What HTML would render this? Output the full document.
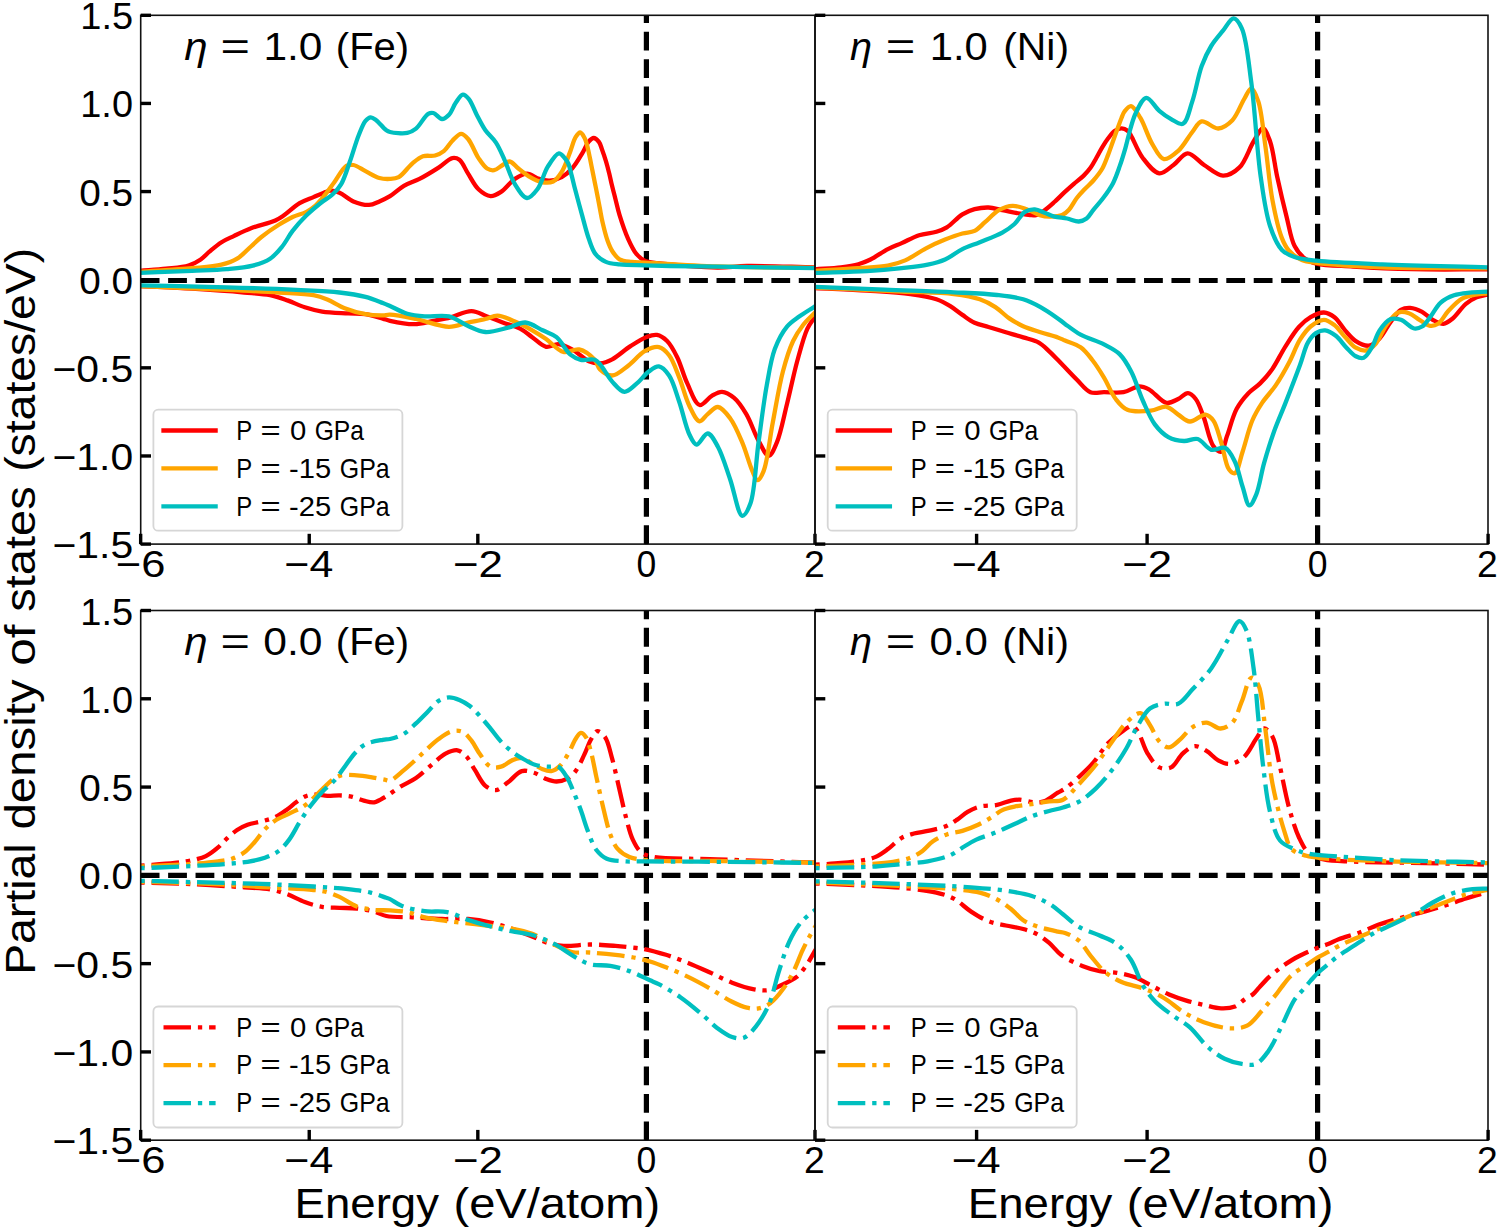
<!DOCTYPE html><html><head><meta charset="utf-8"><style>html,body{margin:0;padding:0;background:#fff;}svg{display:block;}text{font-family:"Liberation Sans",sans-serif;fill:#000;}</style></head><body>
<svg width="1499" height="1230" viewBox="0 0 1499 1230">
<rect width="1499" height="1230" fill="#fff"/>
<clipPath id="clipTL"><rect x="140.7" y="15.3" width="674.3" height="528.8000000000001"/></clipPath>
<line x1="140.7" y1="280.50" x2="815.0" y2="280.50" stroke="#000" stroke-width="5.2" stroke-dasharray="18.8 8.62"/>
<line x1="646.40" y1="544.1" x2="646.40" y2="15.3" stroke="#000" stroke-width="5.2" stroke-dasharray="18.8 8.62"/>
<g clip-path="url(#clipTL)" fill="none" stroke-width="4.3" stroke-linejoin="round">
<path d="M140.00,270.80 C148.67,270.10 157.65,269.61 166.00,268.70 C173.81,267.85 182.37,267.54 188.60,265.60 C193.40,264.11 197.14,261.93 200.70,259.50 C204.01,257.24 206.21,254.37 209.40,251.70 C213.06,248.63 217.32,244.85 221.50,242.20 C225.44,239.71 229.26,238.21 233.70,236.10 C238.94,233.61 244.67,230.73 251.00,228.30 C258.34,225.48 269.35,223.19 275.30,220.50 C279.05,218.80 280.76,217.52 284.00,215.30 C288.53,212.21 294.36,206.32 299.60,203.20 C304.20,200.46 309.20,198.95 313.50,197.10 C317.21,195.50 320.76,193.82 323.90,192.70 C326.41,191.81 328.36,190.77 330.80,190.70 C333.52,190.62 336.38,191.41 339.50,192.70 C343.73,194.45 348.45,199.36 353.40,201.40 C358.29,203.41 364.36,205.14 369.00,204.90 C372.85,204.70 375.96,202.81 379.40,201.40 C382.97,199.93 386.34,198.44 390.00,196.20 C394.44,193.48 398.96,188.69 403.90,185.80 C408.80,182.93 414.12,181.67 419.50,178.90 C425.63,175.74 432.81,171.30 438.60,167.60 C443.63,164.38 448.43,158.83 452.40,158.10 C455.00,157.62 457.23,158.24 459.40,159.80 C462.67,162.16 465.03,168.96 468.10,173.70 C471.38,178.77 474.38,185.46 478.50,189.30 C482.05,192.61 486.66,195.95 490.60,196.20 C494.14,196.42 497.49,194.16 501.00,191.90 C505.56,188.96 510.15,182.01 514.90,178.90 C518.85,176.32 522.96,173.71 527.00,173.70 C531.06,173.69 535.23,177.75 539.20,178.90 C542.74,179.93 546.03,180.81 549.60,180.60 C553.51,180.37 558.00,179.05 561.70,177.10 C565.53,175.08 568.87,172.08 572.10,168.50 C575.90,164.29 579.59,157.71 582.50,152.90 C584.88,148.97 586.26,144.48 588.50,141.90 C590.11,140.04 591.97,138.00 593.70,138.00 C595.43,138.00 597.54,140.14 598.90,141.90 C600.45,143.90 601.03,146.82 602.10,149.70 C603.39,153.19 604.81,157.42 606.00,161.40 C607.21,165.45 608.34,169.91 609.30,173.80 C610.14,177.22 610.64,179.92 611.50,183.50 C612.57,187.96 614.00,193.39 615.30,198.50 C616.66,203.85 617.68,208.97 619.50,214.90 C621.73,222.17 624.94,231.81 628.10,238.80 C630.73,244.61 633.32,250.33 636.60,254.20 C639.19,257.25 641.60,259.43 645.20,261.00 C649.71,262.96 654.89,262.78 662.20,263.60 C675.31,265.06 701.87,267.35 717.40,267.50 C728.73,267.61 734.96,266.18 746.80,266.00 C764.82,265.73 792.27,266.93 815.00,267.40" stroke="#ff0000" stroke-linecap="square"/>
<path d="M140.00,286.00 C157.33,286.90 174.66,287.62 192.00,288.70 C209.36,289.78 229.73,291.23 244.10,292.50 C254.27,293.40 262.38,293.65 270.10,295.20 C276.52,296.49 281.67,298.41 287.40,300.40 C293.24,302.43 298.94,305.42 304.80,307.30 C310.51,309.13 315.69,310.59 322.10,311.60 C329.86,312.82 340.39,312.95 348.20,313.40 C354.56,313.77 359.78,313.35 365.50,314.20 C371.31,315.06 378.29,317.34 382.80,318.60 C385.73,319.42 386.86,320.10 390.00,320.80 C395.68,322.06 406.70,324.34 414.30,324.20 C421.06,324.07 427.20,321.98 433.40,320.80 C439.32,319.68 444.70,318.78 450.70,317.30 C457.35,315.66 465.08,311.08 471.50,311.20 C477.09,311.30 481.92,314.53 487.10,316.40 C492.32,318.29 497.34,320.51 502.70,322.50 C508.32,324.58 514.99,325.95 520.10,328.60 C524.69,330.97 528.02,334.27 532.20,337.20 C536.66,340.33 541.41,345.86 546.10,346.80 C550.13,347.60 554.15,343.89 558.30,344.20 C562.81,344.54 567.39,346.92 572.10,349.40 C577.74,352.37 584.21,359.33 589.50,361.50 C593.25,363.04 596.40,363.56 600.00,363.30 C603.95,363.01 607.90,361.49 612.20,359.30 C617.90,356.40 624.48,349.96 630.50,346.10 C635.97,342.59 641.79,338.72 646.70,336.90 C650.37,335.54 653.61,334.33 656.90,334.90 C660.42,335.51 664.03,337.98 667.10,341.00 C670.99,344.82 674.09,350.97 677.20,357.20 C680.99,364.80 683.50,375.49 687.40,383.70 C691.03,391.34 694.92,404.03 699.60,405.00 C703.29,405.77 707.77,398.16 711.80,395.90 C715.23,393.98 718.49,391.65 722.00,391.80 C725.90,391.97 730.39,394.80 734.10,397.90 C738.64,401.70 742.54,407.81 746.30,414.10 C750.81,421.65 754.31,433.13 758.50,440.60 C761.82,446.52 765.54,455.86 768.70,455.80 C771.60,455.74 774.32,448.39 776.80,442.60 C780.78,433.31 783.68,417.21 787.00,404.00 C790.48,390.15 793.57,374.51 797.20,361.30 C800.39,349.67 803.58,336.85 807.30,328.80 C809.72,323.56 812.43,320.67 815.00,316.60" stroke="#ff0000" stroke-linecap="square"/>
<path d="M140.00,271.70 C157.33,270.53 177.12,269.58 192.00,268.20 C203.23,267.16 213.32,266.72 221.50,264.70 C227.63,263.18 232.29,261.61 237.10,258.70 C242.16,255.64 246.72,250.33 251.00,246.50 C254.74,243.16 257.37,240.23 261.40,237.00 C266.35,233.03 273.25,228.30 278.80,224.80 C283.59,221.78 287.90,219.19 292.60,217.00 C297.14,214.88 302.52,213.88 306.50,211.80 C309.86,210.05 312.43,208.22 315.20,205.80 C318.26,203.12 320.96,199.77 323.90,196.20 C327.31,192.07 330.71,187.13 334.30,182.30 C338.19,177.07 342.41,168.25 346.40,165.90 C348.75,164.52 350.82,164.56 353.40,165.00 C356.97,165.61 361.32,169.01 365.50,171.10 C369.97,173.34 374.97,176.76 379.40,178.00 C383.07,179.03 386.65,179.10 390.00,178.90 C393.06,178.72 395.72,178.71 398.70,177.10 C403.12,174.72 408.04,166.96 412.50,163.30 C416.09,160.36 419.19,157.59 423.00,156.30 C426.74,155.03 431.49,156.49 435.10,155.50 C438.34,154.61 441.11,153.25 443.80,151.10 C446.96,148.57 449.36,143.68 452.40,140.70 C455.16,138.00 458.34,133.84 461.10,133.80 C463.54,133.76 465.82,136.38 468.10,139.00 C471.70,143.14 474.94,152.83 478.50,158.10 C481.31,162.25 484.04,166.59 487.10,168.50 C489.33,169.90 491.72,170.57 494.10,170.20 C496.91,169.77 499.95,166.51 502.70,165.00 C505.13,163.66 507.32,161.24 509.70,161.50 C512.54,161.80 515.35,166.13 518.40,168.50 C521.69,171.06 524.94,174.06 528.80,176.30 C532.95,178.71 538.23,181.56 542.60,182.30 C546.26,182.92 550.03,183.01 553.10,181.50 C556.49,179.83 559.12,175.98 561.70,171.90 C565.11,166.50 567.92,157.36 570.40,151.10 C572.41,146.02 573.52,140.46 575.60,137.20 C576.98,135.03 578.72,132.43 580.20,132.50 C581.73,132.58 583.45,135.89 584.60,138.00 C585.84,140.28 586.40,142.91 587.20,145.80 C588.16,149.28 588.95,153.49 589.80,157.50 C590.69,161.71 591.53,166.17 592.40,170.50 C593.27,174.83 594.13,179.17 595.00,183.50 C595.87,187.83 596.78,192.30 597.60,196.50 C598.37,200.45 599.03,203.98 599.80,208.00 C600.65,212.44 601.35,217.03 602.50,222.00 C603.83,227.76 605.59,235.20 607.50,240.50 C609.01,244.71 610.40,248.29 612.50,251.50 C614.46,254.49 616.51,257.56 619.50,259.30 C622.73,261.18 627.34,261.35 631.50,261.90 C635.92,262.49 638.90,262.27 645.30,262.60 C659.93,263.36 691.54,265.52 717.40,266.40 C747.47,267.42 782.47,267.40 815.00,267.90" stroke="#ffa500" stroke-linecap="square"/>
<path d="M140.00,286.00 C163.13,287.03 186.27,288.02 209.40,289.10 C232.53,290.18 259.64,291.29 278.80,292.50 C292.36,293.36 304.63,293.49 313.50,295.20 C319.22,296.30 322.52,297.57 327.30,299.50 C332.85,301.74 338.52,305.79 344.70,308.20 C351.21,310.74 358.83,313.02 365.50,314.20 C371.47,315.26 378.28,315.46 382.80,315.40 C385.72,315.36 386.86,314.59 390.00,314.70 C395.99,314.90 406.85,317.16 416.00,319.00 C426.38,321.08 439.49,326.75 449.00,326.80 C456.23,326.84 461.88,323.83 468.10,322.50 C474.00,321.24 480.17,320.26 485.40,319.00 C489.81,317.93 493.12,315.47 497.50,315.60 C502.80,315.75 509.19,319.19 514.90,321.60 C520.76,324.07 526.81,327.27 532.20,330.30 C537.16,333.09 541.28,335.70 546.10,339.00 C551.65,342.80 557.54,350.55 563.50,352.00 C568.58,353.23 574.10,348.33 579.10,349.40 C584.54,350.57 591.14,355.93 594.70,359.80 C597.42,362.76 597.34,366.85 600.00,369.40 C602.96,372.24 607.90,375.70 612.20,375.50 C617.30,375.27 623.23,369.31 628.50,365.40 C634.09,361.25 639.12,354.14 644.70,351.10 C649.31,348.59 654.74,346.26 658.90,347.10 C662.81,347.89 666.09,351.35 669.10,355.20 C673.24,360.49 676.07,369.62 679.30,377.60 C682.87,386.43 685.48,398.18 689.40,406.00 C692.46,412.11 696.13,420.85 699.60,421.30 C702.26,421.64 704.77,416.41 707.70,414.10 C710.84,411.63 714.44,406.77 717.90,407.00 C721.89,407.27 726.43,413.33 730.10,418.20 C734.81,424.46 738.66,434.03 742.30,442.60 C746.14,451.62 749.33,464.33 752.40,471.10 C754.20,475.08 755.66,480.13 757.50,480.20 C759.39,480.28 761.76,475.61 763.60,471.10 C767.53,461.51 769.62,438.72 772.80,422.30 C776.05,405.53 779.00,386.18 782.90,371.50 C785.97,359.93 789.14,349.40 793.10,341.00 C796.16,334.51 799.51,329.57 803.30,324.70 C806.86,320.14 811.10,316.57 815.00,312.50" stroke="#ffa500" stroke-linecap="square"/>
<path d="M140.00,272.90 C157.33,272.20 176.41,271.50 192.00,270.80 C204.73,270.23 215.99,270.08 226.70,269.10 C236.01,268.25 245.01,267.61 252.70,265.60 C259.20,263.90 265.11,261.99 270.10,258.70 C274.88,255.54 278.52,251.01 282.20,246.50 C286.05,241.79 288.68,235.97 292.60,230.90 C296.73,225.55 301.71,220.03 306.50,215.30 C311.00,210.85 315.84,206.81 320.40,203.20 C324.50,199.96 328.97,197.78 332.50,194.50 C335.86,191.38 338.61,188.50 341.20,184.10 C344.66,178.23 347.08,169.33 349.90,161.50 C352.90,153.17 355.65,142.87 358.60,135.50 C360.87,129.83 362.90,123.84 365.50,120.80 C367.12,118.91 368.93,117.41 370.70,117.30 C372.40,117.19 373.99,118.53 375.90,119.90 C378.93,122.08 383.57,128.40 386.30,130.30 C387.74,131.30 388.26,131.57 390.00,132.00 C393.60,132.89 402.62,133.87 407.30,132.90 C410.81,132.18 413.10,130.90 416.00,128.60 C420.07,125.37 424.63,115.83 428.20,113.80 C430.07,112.74 431.54,112.57 433.40,113.00 C436.02,113.61 439.26,118.92 442.00,119.00 C444.43,119.07 446.91,116.86 449.00,114.70 C451.72,111.88 453.39,106.00 455.90,102.50 C458.07,99.47 460.54,94.94 462.90,94.70 C464.88,94.49 467.02,96.87 468.90,99.10 C471.78,102.51 473.97,109.53 476.70,114.70 C479.46,119.93 482.11,125.58 485.40,130.30 C488.51,134.76 492.73,137.79 495.80,142.40 C499.19,147.49 501.57,153.47 504.50,159.80 C507.92,167.18 510.69,177.39 514.90,184.10 C518.42,189.70 522.96,197.68 527.00,198.00 C530.46,198.27 534.32,193.33 537.40,189.30 C541.57,183.84 543.81,173.02 547.80,166.70 C551.13,161.42 555.76,153.77 558.90,153.40 C560.80,153.18 562.49,155.62 564.00,157.20 C565.66,158.93 567.11,160.94 568.30,163.50 C569.83,166.78 570.60,171.43 571.70,175.60 C572.87,180.02 573.74,184.03 575.10,189.30 C576.97,196.52 579.68,206.52 582.00,214.90 C584.25,223.01 586.27,231.78 588.80,238.80 C590.89,244.58 592.45,250.24 595.60,254.20 C598.36,257.66 602.01,260.20 605.90,261.90 C609.94,263.66 614.22,263.83 619.50,264.40 C626.71,265.18 636.79,265.03 645.30,265.30 C653.62,265.56 660.44,265.79 670.00,266.00 C683.25,266.29 698.78,266.42 717.40,266.70 C744.12,267.10 782.47,267.70 815.00,268.20" stroke="#00bfbf" stroke-linecap="square"/>
<path d="M140.00,285.30 C168.90,285.97 199.41,286.47 226.70,287.30 C251.12,288.04 275.67,288.91 296.10,289.90 C312.26,290.69 326.91,291.06 339.50,292.50 C349.30,293.62 357.79,294.90 365.50,296.90 C371.93,298.56 378.30,301.27 382.80,303.00 C385.74,304.13 387.09,304.74 390.00,306.00 C394.53,307.97 401.40,312.07 407.30,313.80 C412.98,315.47 418.40,315.93 424.70,316.40 C432.11,316.95 441.58,314.64 449.00,316.40 C455.96,318.05 461.80,323.34 468.10,326.00 C473.93,328.46 479.18,331.55 485.40,332.00 C492.37,332.51 501.01,329.41 508.00,327.70 C514.19,326.18 519.60,322.12 525.30,322.50 C531.14,322.88 537.17,327.73 542.60,330.30 C547.51,332.62 552.22,333.74 556.50,337.20 C561.63,341.34 565.67,350.77 570.40,354.60 C573.82,357.36 576.97,358.89 580.80,359.80 C584.99,360.79 591.32,358.56 594.70,359.80 C597.09,360.68 598.03,362.14 600.00,364.30 C603.44,368.06 607.80,376.82 612.20,381.60 C616.02,385.74 620.25,391.57 624.40,391.80 C628.39,392.02 632.69,386.90 636.60,383.70 C640.85,380.22 644.68,374.48 648.80,371.50 C652.13,369.09 655.66,365.98 658.90,366.40 C662.46,366.87 666.13,371.20 669.10,375.50 C673.39,381.70 676.06,392.66 679.30,402.00 C682.85,412.23 685.68,426.94 689.40,434.50 C691.64,439.05 693.69,444.35 696.50,444.60 C699.67,444.88 704.18,433.27 707.70,433.50 C711.32,433.74 714.74,441.03 717.90,446.70 C722.46,454.88 726.14,468.01 730.10,479.20 C734.28,491.00 738.04,515.23 742.30,515.80 C744.93,516.15 748.15,509.59 750.40,503.60 C755.01,491.33 755.73,462.57 758.50,442.60 C761.17,423.30 763.63,402.53 766.70,385.70 C769.18,372.11 770.88,359.57 774.80,349.10 C778.04,340.46 782.32,332.38 787.00,326.70 C790.69,322.22 794.77,319.85 799.20,316.60 C804.03,313.06 809.73,309.80 815.00,306.40" stroke="#00bfbf" stroke-linecap="square"/>
</g>
<rect x="140.7" y="15.3" width="674.3" height="528.8000000000001" fill="none" stroke="#111" stroke-width="1.6"/>
<line x1="140.7" y1="544.10" x2="151.0" y2="544.10" stroke="#000" stroke-width="3.4"/>
<line x1="140.7" y1="455.97" x2="151.0" y2="455.97" stroke="#000" stroke-width="3.4"/>
<line x1="140.7" y1="367.83" x2="151.0" y2="367.83" stroke="#000" stroke-width="3.4"/>
<line x1="140.7" y1="279.70" x2="151.0" y2="279.70" stroke="#000" stroke-width="3.4"/>
<line x1="140.7" y1="191.57" x2="151.0" y2="191.57" stroke="#000" stroke-width="3.4"/>
<line x1="140.7" y1="103.43" x2="151.0" y2="103.43" stroke="#000" stroke-width="3.4"/>
<line x1="140.7" y1="15.30" x2="151.0" y2="15.30" stroke="#000" stroke-width="3.4"/>
<line x1="140.66" y1="544.1" x2="140.66" y2="533.8000000000001" stroke="#000" stroke-width="3.4"/>
<line x1="309.24" y1="544.1" x2="309.24" y2="533.8000000000001" stroke="#000" stroke-width="3.4"/>
<line x1="477.82" y1="544.1" x2="477.82" y2="533.8000000000001" stroke="#000" stroke-width="3.4"/>
<line x1="646.40" y1="544.1" x2="646.40" y2="533.8000000000001" stroke="#000" stroke-width="3.4"/>
<line x1="814.98" y1="544.1" x2="814.98" y2="533.8000000000001" stroke="#000" stroke-width="3.4"/>
<clipPath id="clipTR"><rect x="815.0" y="15.3" width="673.0" height="528.8000000000001"/></clipPath>
<line x1="815.0" y1="280.50" x2="1488.0" y2="280.50" stroke="#000" stroke-width="5.2" stroke-dasharray="18.8 8.62"/>
<line x1="1317.60" y1="544.1" x2="1317.60" y2="15.3" stroke="#000" stroke-width="5.2" stroke-dasharray="18.8 8.62"/>
<g clip-path="url(#clipTR)" fill="none" stroke-width="4.3" stroke-linejoin="round">
<path d="M815.00,269.40 C823.67,268.70 833.22,268.30 841.00,267.30 C847.40,266.47 853.19,265.66 858.40,264.20 C862.87,262.95 866.20,261.60 870.50,259.50 C875.88,256.87 882.35,251.95 887.90,249.10 C892.68,246.64 896.84,245.26 901.70,243.10 C907.17,240.67 913.20,237.09 919.10,235.20 C924.77,233.38 931.43,233.32 936.40,231.80 C940.38,230.58 943.16,229.62 946.80,227.40 C951.68,224.42 957.29,217.52 962.40,214.40 C966.53,211.88 970.32,210.35 974.60,209.20 C979.00,208.02 983.89,207.35 988.50,207.50 C993.12,207.65 997.44,209.15 1002.30,210.10 C1007.77,211.16 1014.65,212.72 1019.70,213.60 C1023.57,214.27 1027.04,214.89 1030.00,215.10 C1032.23,215.26 1033.82,215.65 1035.90,215.10 C1038.61,214.39 1041.71,212.20 1044.60,210.20 C1047.87,207.94 1051.19,204.88 1054.40,202.00 C1057.69,199.05 1060.83,195.73 1064.10,192.70 C1067.33,189.70 1070.61,186.77 1073.90,183.90 C1077.15,181.07 1080.82,178.44 1083.70,175.60 C1086.28,173.06 1088.44,170.65 1090.50,167.80 C1092.66,164.81 1094.38,161.35 1096.30,158.00 C1098.28,154.53 1100.17,150.65 1102.20,147.30 C1104.08,144.18 1105.88,141.27 1108.00,138.50 C1110.11,135.74 1112.37,132.41 1114.90,130.70 C1117.01,129.28 1119.53,128.23 1121.70,128.30 C1123.75,128.36 1126.03,129.54 1127.60,130.80 C1129.10,132.01 1129.62,133.35 1131.00,135.60 C1133.87,140.27 1137.89,151.59 1142.80,158.00 C1147.43,164.04 1153.78,172.69 1159.30,173.30 C1164.02,173.82 1168.90,168.22 1173.50,165.00 C1178.35,161.60 1182.64,153.49 1187.60,153.30 C1192.81,153.10 1198.31,161.34 1204.10,165.00 C1210.09,168.79 1216.87,175.45 1223.00,175.60 C1228.65,175.74 1234.79,171.94 1239.50,167.40 C1245.46,161.66 1249.16,148.55 1253.60,141.50 C1256.87,136.30 1260.21,128.32 1263.00,128.50 C1265.68,128.67 1268.06,135.91 1270.10,141.50 C1273.27,150.21 1274.56,164.68 1277.20,176.80 C1280.02,189.76 1283.48,204.62 1286.60,216.90 C1289.28,227.43 1290.77,238.71 1294.60,246.10 C1297.39,251.48 1300.88,255.54 1304.80,258.50 C1308.29,261.14 1311.38,262.32 1316.50,263.60 C1325.17,265.77 1339.40,265.65 1353.00,266.50 C1370.20,267.58 1390.69,268.69 1411.50,269.20 C1435.29,269.78 1462.50,269.33 1488.00,269.40" stroke="#ff0000" stroke-linecap="square"/>
<path d="M815.00,288.00 C832.33,288.87 850.46,289.52 867.00,290.60 C882.13,291.59 897.82,292.34 910.40,294.10 C920.22,295.47 929.21,296.85 936.40,299.30 C941.90,301.18 945.93,303.57 950.30,306.20 C954.58,308.78 958.32,312.13 962.40,314.90 C966.42,317.63 970.26,320.68 974.60,322.70 C978.95,324.72 983.61,325.51 988.50,327.00 C993.95,328.66 1000.02,330.47 1005.80,332.20 C1011.59,333.94 1017.57,335.62 1023.20,337.40 C1028.56,339.09 1034.32,340.10 1038.80,342.60 C1042.86,344.87 1045.68,348.06 1049.20,351.30 C1053.16,354.94 1057.04,359.14 1061.30,363.50 C1066.14,368.46 1071.65,374.54 1076.70,379.50 C1081.33,384.05 1085.43,390.25 1090.40,392.20 C1094.64,393.86 1099.06,392.20 1104.00,392.20 C1109.92,392.20 1117.46,393.30 1123.50,392.20 C1129.09,391.18 1134.48,386.45 1139.10,386.30 C1142.72,386.18 1145.34,387.46 1148.90,389.30 C1154.14,392.01 1160.99,401.97 1166.50,402.90 C1170.60,403.60 1174.57,400.67 1178.20,399.00 C1181.68,397.40 1184.89,393.05 1187.90,393.20 C1190.69,393.34 1193.41,396.14 1195.70,399.00 C1198.92,403.03 1200.91,409.92 1203.50,416.60 C1206.78,425.06 1209.16,440.18 1213.30,445.90 C1215.62,449.11 1218.98,452.32 1221.10,451.70 C1223.88,450.88 1224.82,442.04 1227.00,436.10 C1229.87,428.28 1232.63,416.38 1236.70,408.80 C1240.04,402.58 1244.23,397.60 1248.40,393.20 C1252.09,389.31 1256.35,387.11 1260.10,383.40 C1264.17,379.38 1267.99,375.15 1271.80,369.80 C1276.50,363.21 1280.79,353.68 1285.50,346.30 C1289.91,339.40 1294.40,331.92 1299.10,326.80 C1302.83,322.73 1306.39,319.60 1310.60,317.20 C1314.68,314.88 1319.75,312.34 1323.90,312.50 C1327.66,312.65 1331.24,314.69 1334.50,317.20 C1338.44,320.23 1341.44,326.32 1345.10,330.40 C1348.56,334.25 1351.72,338.54 1355.80,341.10 C1359.72,343.56 1364.97,346.24 1369.00,345.70 C1372.87,345.18 1376.34,341.69 1379.60,338.40 C1383.58,334.38 1386.61,327.40 1390.30,322.50 C1393.72,317.96 1397.06,312.21 1400.90,309.90 C1403.82,308.14 1406.94,307.72 1410.20,307.90 C1413.95,308.11 1418.39,309.96 1422.10,311.90 C1425.91,313.89 1429.01,317.79 1432.70,319.80 C1436.13,321.67 1440.02,324.07 1443.40,323.80 C1446.67,323.54 1449.54,321.04 1452.70,318.50 C1456.99,315.06 1461.47,307.59 1465.90,303.90 C1469.44,300.95 1472.85,298.85 1476.60,297.30 C1480.22,295.80 1484.20,295.50 1488.00,294.60" stroke="#ff0000" stroke-linecap="square"/>
<path d="M815.00,270.80 C829.47,269.93 845.33,269.17 858.40,268.20 C869.19,267.40 879.44,267.23 887.90,265.60 C894.51,264.33 899.32,262.95 905.20,260.40 C911.98,257.46 919.13,251.85 926.00,248.30 C932.42,244.98 938.84,242.13 945.10,239.60 C950.96,237.24 957.09,234.99 962.40,233.50 C966.78,232.27 970.90,232.70 974.60,230.90 C978.46,229.02 981.30,225.36 985.00,222.20 C989.31,218.52 993.97,212.85 998.90,210.10 C1003.27,207.66 1008.07,205.94 1012.70,205.80 C1017.31,205.66 1022.09,207.66 1026.60,209.20 C1031.13,210.75 1035.66,213.88 1039.80,215.10 C1043.21,216.11 1046.04,216.54 1049.50,216.60 C1053.44,216.67 1058.78,216.51 1062.20,215.10 C1065.01,213.94 1066.84,212.14 1069.00,209.80 C1071.77,206.80 1074.06,201.54 1076.80,198.00 C1079.29,194.78 1081.88,192.17 1084.60,189.30 C1087.41,186.34 1090.58,183.75 1093.40,180.50 C1096.46,176.97 1099.77,173.01 1102.20,168.80 C1104.65,164.55 1106.21,159.68 1108.00,155.10 C1109.77,150.58 1111.27,146.04 1112.90,141.50 C1114.54,136.94 1116.26,131.98 1117.80,127.80 C1119.10,124.25 1120.28,120.91 1121.50,118.00 C1122.51,115.59 1123.02,113.42 1124.50,111.50 C1126.10,109.41 1128.76,105.87 1131.00,106.10 C1134.00,106.41 1137.38,112.98 1140.40,117.90 C1144.55,124.66 1147.81,136.51 1152.20,143.80 C1155.82,149.81 1159.44,158.20 1164.00,159.10 C1168.20,159.93 1173.84,154.78 1178.20,150.90 C1183.43,146.25 1187.97,137.32 1192.30,132.00 C1195.66,127.88 1197.74,122.28 1201.70,121.40 C1206.16,120.41 1212.98,128.82 1218.20,128.50 C1223.19,128.19 1228.34,124.34 1232.40,120.20 C1237.33,115.17 1240.65,104.79 1244.20,99.00 C1246.77,94.80 1249.03,88.29 1251.30,88.40 C1253.74,88.52 1256.32,95.55 1258.30,101.40 C1261.76,111.66 1263.13,130.54 1265.40,146.20 C1267.89,163.39 1269.40,184.05 1272.50,200.40 C1275.11,214.19 1278.35,229.10 1281.90,238.10 C1284.05,243.54 1285.63,246.93 1288.80,250.50 C1292.18,254.31 1297.17,257.94 1301.90,260.00 C1306.43,261.98 1309.84,262.02 1316.50,262.90 C1330.51,264.75 1357.76,266.36 1382.30,267.30 C1413.36,268.48 1452.77,267.97 1488.00,268.30" stroke="#ffa500" stroke-linecap="square"/>
<path d="M815.00,287.50 C843.90,288.83 876.46,290.29 901.70,291.50 C921.27,292.44 939.48,292.32 953.80,294.10 C964.01,295.37 972.38,296.75 979.80,299.30 C985.82,301.37 990.51,303.95 995.40,307.10 C1000.35,310.30 1004.52,315.15 1009.30,318.40 C1013.81,321.46 1018.21,323.95 1023.20,326.20 C1028.55,328.61 1034.71,330.33 1040.50,332.20 C1046.25,334.06 1053.31,335.77 1057.80,337.40 C1060.76,338.48 1062.14,339.26 1065.00,340.50 C1069.21,342.32 1076.06,344.07 1080.60,347.30 C1085.17,350.55 1088.58,355.26 1092.30,360.00 C1096.42,365.25 1100.23,371.36 1104.00,377.60 C1108.05,384.30 1111.29,393.35 1115.70,399.00 C1119.27,403.57 1122.35,407.71 1127.40,409.80 C1133.54,412.34 1143.91,411.42 1150.90,410.70 C1156.68,410.10 1161.83,405.99 1166.50,406.80 C1170.87,407.56 1174.27,412.13 1178.20,414.60 C1182.07,417.03 1185.65,421.25 1189.90,421.50 C1194.66,421.78 1201.31,414.11 1205.50,414.60 C1208.68,414.97 1211.06,417.46 1213.30,420.50 C1216.73,425.15 1218.63,434.36 1221.10,442.00 C1223.86,450.51 1225.41,464.53 1228.90,469.30 C1230.64,471.68 1233.02,473.79 1234.80,473.20 C1238.00,472.14 1239.95,459.57 1242.60,451.70 C1245.76,442.30 1248.55,429.26 1252.30,420.50 C1255.25,413.62 1258.32,408.62 1262.10,402.90 C1266.07,396.90 1271.36,391.81 1275.70,385.40 C1280.50,378.31 1285.28,369.79 1289.40,362.00 C1293.34,354.56 1296.07,345.97 1300.00,339.70 C1303.26,334.51 1306.45,329.86 1310.60,326.50 C1314.49,323.35 1319.72,319.81 1323.90,319.80 C1327.63,319.79 1331.19,322.56 1334.50,325.10 C1338.34,328.05 1341.49,333.28 1345.10,337.10 C1348.60,340.80 1351.92,345.50 1355.80,347.70 C1359.11,349.57 1363.12,351.02 1366.40,350.40 C1369.76,349.76 1372.82,346.91 1375.70,343.70 C1379.64,339.32 1382.31,330.49 1386.30,325.10 C1389.89,320.25 1393.92,314.18 1398.20,312.50 C1401.57,311.18 1405.47,312.10 1408.90,313.20 C1412.60,314.39 1415.94,317.69 1419.50,319.80 C1423.01,321.89 1426.73,325.34 1430.10,325.80 C1432.88,326.18 1435.52,325.46 1438.10,323.80 C1441.81,321.42 1444.77,314.66 1448.70,310.50 C1452.72,306.24 1457.26,301.26 1462.00,298.60 C1466.16,296.26 1470.79,295.48 1475.20,294.60 C1479.46,293.75 1483.73,293.73 1488.00,293.30" stroke="#ffa500" stroke-linecap="square"/>
<path d="M815.00,272.90 C832.33,272.33 851.42,272.13 867.00,271.20 C879.74,270.44 890.98,269.38 901.70,268.20 C911.00,267.17 919.96,266.37 927.70,264.70 C934.14,263.31 939.46,261.99 945.10,259.50 C951.05,256.87 956.50,252.02 962.40,249.10 C968.08,246.29 973.65,244.73 979.80,242.20 C986.84,239.30 996.09,236.06 1002.30,232.60 C1007.15,229.89 1010.79,227.39 1014.50,224.00 C1018.35,220.49 1021.05,214.19 1024.90,211.80 C1027.99,209.89 1031.61,209.15 1034.90,209.30 C1038.18,209.45 1041.37,211.49 1044.60,212.70 C1047.87,213.92 1050.86,215.65 1054.40,216.60 C1058.30,217.65 1062.97,217.66 1067.10,218.50 C1071.10,219.31 1075.32,221.70 1078.80,221.50 C1081.69,221.33 1084.29,220.21 1086.60,218.50 C1089.25,216.54 1090.90,212.90 1093.40,209.80 C1096.34,206.15 1100.05,202.23 1103.20,198.00 C1106.57,193.48 1110.16,188.64 1112.90,183.40 C1115.73,177.97 1117.70,171.86 1119.80,165.90 C1121.94,159.83 1123.82,153.54 1125.60,147.30 C1127.38,141.07 1128.73,134.41 1130.50,128.50 C1132.12,123.11 1133.22,118.14 1135.70,113.20 C1138.37,107.88 1142.35,98.16 1146.30,97.80 C1150.22,97.44 1154.91,107.11 1159.30,110.80 C1163.19,114.07 1167.03,116.90 1171.10,119.10 C1174.92,121.16 1179.67,125.16 1182.90,123.80 C1187.37,121.92 1189.43,109.83 1192.30,101.40 C1195.83,91.05 1198.04,75.99 1201.70,66.00 C1204.55,58.24 1207.49,52.04 1211.20,46.00 C1214.66,40.36 1219.11,35.47 1223.00,30.70 C1226.57,26.32 1230.31,18.37 1233.60,18.40 C1236.53,18.43 1239.46,23.23 1241.80,28.30 C1246.64,38.79 1248.47,61.89 1251.30,82.50 C1255.01,109.55 1256.89,150.46 1260.70,176.80 C1263.48,196.01 1265.63,213.07 1270.10,226.30 C1273.33,235.88 1276.95,244.72 1281.90,249.90 C1285.57,253.75 1289.62,255.25 1294.60,257.00 C1300.76,259.17 1307.20,259.66 1316.50,260.70 C1332.51,262.48 1357.77,263.28 1382.30,264.30 C1413.37,265.59 1452.77,266.30 1488.00,267.30" stroke="#00bfbf" stroke-linecap="square"/>
<path d="M815.00,286.80 C838.13,287.77 861.27,288.78 884.40,289.70 C907.53,290.62 933.39,291.28 953.80,292.30 C969.93,293.11 984.51,293.57 997.10,295.00 C1006.93,296.11 1015.52,296.98 1023.20,299.30 C1029.70,301.26 1034.85,304.01 1040.50,307.10 C1046.39,310.33 1053.32,315.23 1057.80,318.40 C1060.77,320.50 1062.11,321.81 1065.00,323.90 C1069.18,326.92 1074.69,331.38 1080.60,334.60 C1087.45,338.33 1097.11,340.85 1104.00,344.40 C1109.86,347.42 1115.15,349.79 1119.60,354.10 C1124.37,358.73 1127.72,364.88 1131.30,371.70 C1135.68,380.04 1138.88,391.87 1143.00,401.00 C1146.75,409.33 1150.08,418.11 1154.80,424.40 C1158.78,429.70 1163.32,434.34 1168.40,437.10 C1173.13,439.67 1178.94,440.75 1184.00,441.00 C1188.69,441.23 1193.38,437.84 1197.70,439.00 C1202.54,440.30 1206.46,448.50 1211.30,449.80 C1215.62,450.96 1221.20,446.18 1225.00,447.80 C1229.20,449.59 1232.06,455.97 1234.80,461.50 C1238.23,468.43 1239.99,479.04 1242.60,486.80 C1244.86,493.51 1246.82,505.13 1249.40,505.40 C1251.47,505.62 1254.18,499.34 1256.20,494.60 C1259.41,487.07 1261.08,473.76 1264.00,463.40 C1266.94,452.96 1270.18,442.37 1273.80,432.20 C1277.36,422.21 1281.43,413.31 1285.50,402.90 C1290.12,391.09 1295.94,376.03 1300.00,365.00 C1303.12,356.52 1304.74,348.07 1308.00,342.40 C1310.33,338.35 1312.82,335.09 1315.90,333.10 C1318.64,331.32 1322.06,330.10 1325.20,330.40 C1328.68,330.73 1332.48,333.25 1335.80,335.80 C1339.65,338.76 1342.98,344.13 1346.50,347.70 C1349.63,350.88 1352.58,354.70 1355.80,356.30 C1358.36,357.57 1361.30,358.61 1363.70,357.70 C1366.74,356.56 1369.26,351.66 1371.70,347.70 C1374.67,342.87 1376.27,335.31 1379.60,330.40 C1382.60,325.97 1386.35,320.76 1390.30,319.20 C1393.57,317.91 1397.33,318.62 1400.90,319.80 C1405.27,321.24 1410.21,327.83 1414.20,328.50 C1417.06,328.98 1419.67,328.00 1422.10,326.50 C1425.08,324.66 1427.32,320.71 1430.10,317.20 C1433.47,312.94 1436.49,306.31 1440.70,302.60 C1444.56,299.20 1449.22,296.97 1454.00,295.30 C1458.93,293.58 1464.41,293.20 1469.90,292.60 C1475.72,291.96 1481.97,292.00 1488.00,291.70" stroke="#00bfbf" stroke-linecap="square"/>
</g>
<rect x="815.0" y="15.3" width="673.0" height="528.8000000000001" fill="none" stroke="#111" stroke-width="1.6"/>
<line x1="815.0" y1="544.10" x2="825.3" y2="544.10" stroke="#000" stroke-width="3.4"/>
<line x1="815.0" y1="455.97" x2="825.3" y2="455.97" stroke="#000" stroke-width="3.4"/>
<line x1="815.0" y1="367.83" x2="825.3" y2="367.83" stroke="#000" stroke-width="3.4"/>
<line x1="815.0" y1="279.70" x2="825.3" y2="279.70" stroke="#000" stroke-width="3.4"/>
<line x1="815.0" y1="191.57" x2="825.3" y2="191.57" stroke="#000" stroke-width="3.4"/>
<line x1="815.0" y1="103.43" x2="825.3" y2="103.43" stroke="#000" stroke-width="3.4"/>
<line x1="815.0" y1="15.30" x2="825.3" y2="15.30" stroke="#000" stroke-width="3.4"/>
<line x1="976.60" y1="544.1" x2="976.60" y2="533.8000000000001" stroke="#000" stroke-width="3.4"/>
<line x1="1147.10" y1="544.1" x2="1147.10" y2="533.8000000000001" stroke="#000" stroke-width="3.4"/>
<line x1="1317.60" y1="544.1" x2="1317.60" y2="533.8000000000001" stroke="#000" stroke-width="3.4"/>
<line x1="1488.10" y1="544.1" x2="1488.10" y2="533.8000000000001" stroke="#000" stroke-width="3.4"/>
<clipPath id="clipBL"><rect x="140.7" y="610.5" width="674.3" height="529.7"/></clipPath>
<line x1="140.7" y1="875.45" x2="815.0" y2="875.45" stroke="#000" stroke-width="5.2" stroke-dasharray="18.8 8.62"/>
<line x1="646.40" y1="1140.2" x2="646.40" y2="610.5" stroke="#000" stroke-width="5.2" stroke-dasharray="18.8 8.62"/>
<g clip-path="url(#clipBL)" fill="none" stroke-width="4.3" stroke-linejoin="round">
<path d="M140.00,865.60 C151.57,864.73 164.63,864.22 174.70,863.00 C182.54,862.05 189.80,860.90 195.50,859.50 C199.61,858.49 202.43,857.85 205.90,856.10 C209.96,854.05 214.50,850.46 218.10,847.40 C221.35,844.63 223.63,841.53 226.70,838.70 C229.94,835.72 233.49,832.37 237.10,830.00 C240.44,827.81 243.70,826.20 247.50,824.80 C251.72,823.25 256.79,822.69 261.40,821.40 C266.06,820.10 270.95,819.04 275.30,817.00 C279.62,814.97 283.76,811.81 287.40,809.20 C290.60,806.91 293.00,804.47 296.10,802.30 C299.35,800.02 302.89,797.19 306.50,795.90 C309.84,794.71 313.43,794.50 316.90,794.50 C320.37,794.50 323.69,795.73 327.30,795.90 C331.20,796.08 335.45,795.28 339.50,795.40 C343.55,795.52 347.60,795.76 351.60,796.60 C355.71,797.47 359.86,799.64 363.80,800.60 C367.37,801.47 370.69,802.84 374.20,802.30 C378.18,801.69 382.19,798.61 386.30,796.20 C390.90,793.50 395.52,789.70 400.40,786.70 C405.41,783.62 410.83,781.58 416.00,778.00 C421.84,773.96 428.09,767.64 433.40,763.30 C437.77,759.72 441.24,755.88 445.50,753.70 C449.35,751.74 454.02,749.70 457.60,750.30 C460.88,750.85 463.65,753.53 466.30,756.30 C469.60,759.75 471.93,765.46 475.00,770.20 C478.28,775.27 481.37,782.49 485.40,785.80 C488.53,788.37 492.28,790.41 495.80,790.10 C499.80,789.75 503.89,785.27 508.00,782.30 C512.55,779.01 517.04,772.42 521.80,771.10 C525.76,770.00 530.04,771.56 534.00,772.80 C538.15,774.10 542.14,777.43 546.10,778.90 C549.62,780.21 553.03,781.50 556.50,781.50 C559.97,781.50 563.77,780.56 566.90,778.90 C570.17,777.17 572.97,774.47 575.60,771.10 C578.93,766.84 581.65,760.07 584.30,754.60 C586.83,749.37 588.69,743.19 591.20,739.00 C593.11,735.81 594.98,731.49 597.30,731.20 C599.61,730.91 602.93,734.13 605.10,737.20 C608.35,741.78 609.84,750.49 612.00,758.10 C614.53,767.02 616.68,777.69 619.00,787.50 C621.32,797.32 623.44,807.86 625.90,817.00 C628.07,825.07 629.80,833.28 632.80,839.60 C635.24,844.74 637.86,849.75 641.50,852.60 C644.69,855.10 647.37,855.63 652.80,856.70 C665.39,859.18 693.65,858.42 717.40,859.30 C746.59,860.38 782.47,861.50 815.00,862.60" stroke="#ff0000" stroke-dasharray="27.5 6.9 4.3 6.9" stroke-dashoffset="34"/>
<path d="M140.00,882.50 C157.33,883.07 174.66,883.40 192.00,884.20 C209.36,885.00 229.73,886.29 244.10,887.30 C254.26,888.01 262.37,888.01 270.10,889.40 C276.51,890.56 281.70,892.23 287.40,894.30 C293.27,896.43 298.93,900.00 304.80,902.10 C310.50,904.14 316.28,905.85 322.10,906.80 C327.84,907.73 333.71,907.52 339.50,907.80 C345.27,908.08 351.05,907.87 356.80,908.50 C362.61,909.13 368.98,910.20 374.20,911.60 C378.66,912.80 381.41,915.01 386.30,916.00 C393.28,917.41 403.51,916.82 412.50,917.30 C422.04,917.81 432.46,918.73 442.00,919.00 C450.96,919.26 459.75,918.35 468.10,919.00 C475.90,919.60 483.30,920.87 490.60,922.50 C497.72,924.09 504.37,926.24 511.40,928.60 C518.83,931.10 527.66,934.63 534.00,937.20 C538.68,939.10 541.62,941.00 546.10,942.40 C551.30,944.02 557.09,945.44 563.50,945.90 C571.27,946.46 580.83,944.50 589.50,944.50 C598.17,944.50 607.32,945.27 615.50,945.90 C622.83,946.47 631.06,947.40 636.30,948.00 C639.49,948.37 640.80,948.37 644.00,949.00 C649.48,950.07 658.71,952.51 666.00,954.80 C673.41,957.13 680.79,959.97 688.10,962.90 C695.49,965.86 702.79,969.21 710.10,972.50 C717.45,975.81 724.66,979.88 732.10,982.70 C739.34,985.45 747.44,988.14 754.10,989.30 C759.43,990.23 764.00,990.90 768.80,990.10 C773.77,989.27 778.71,986.43 783.40,984.20 C788.00,982.02 792.95,979.95 796.70,976.90 C800.24,974.02 802.72,970.47 805.50,966.60 C808.63,962.25 812.03,955.91 814.30,951.90 C815.84,949.19 816.77,947.30 818.00,945.00" stroke="#ff0000" stroke-dasharray="27.5 6.9 4.3 6.9" stroke-dashoffset="34"/>
<path d="M140.00,866.50 C157.33,865.63 177.64,864.97 192.00,863.90 C202.20,863.14 210.79,862.35 218.10,861.30 C223.45,860.53 227.54,860.17 231.90,858.70 C236.20,857.25 240.39,855.27 244.10,852.60 C247.95,849.82 251.13,845.96 254.50,842.20 C258.08,838.20 261.24,832.94 264.90,829.20 C268.21,825.82 271.42,823.04 275.30,820.50 C279.46,817.79 284.57,815.91 289.20,813.60 C293.84,811.28 298.94,809.32 303.10,806.60 C306.98,804.07 310.11,801.10 313.50,798.00 C317.05,794.76 320.56,790.70 323.90,787.50 C326.86,784.66 329.47,781.76 332.50,779.70 C335.27,777.82 337.77,776.20 341.20,775.40 C345.55,774.38 351.76,775.09 356.80,775.40 C361.58,775.69 366.08,776.39 370.70,777.10 C375.34,777.82 381.04,779.07 384.60,779.70 C386.82,780.09 387.91,781.11 390.00,780.60 C393.72,779.70 399.11,774.14 403.90,770.20 C409.45,765.64 415.42,759.80 421.20,754.60 C426.99,749.40 432.92,743.08 438.60,739.00 C443.28,735.64 447.97,732.19 452.40,731.20 C456.01,730.40 459.80,730.57 462.90,732.00 C466.24,733.54 468.80,737.29 471.50,740.70 C474.62,744.65 476.99,750.24 480.20,754.60 C483.37,758.90 486.68,764.90 490.60,766.70 C493.77,768.15 497.65,767.60 501.00,766.70 C504.60,765.74 508.00,762.16 511.40,760.70 C514.35,759.43 517.00,757.92 520.10,758.10 C523.84,758.32 528.37,761.38 532.20,763.30 C535.85,765.13 539.18,768.00 542.60,769.30 C545.54,770.42 548.49,771.57 551.30,771.10 C554.30,770.59 557.35,768.42 560.00,765.90 C563.29,762.77 566.10,757.39 568.70,752.90 C571.29,748.42 573.23,742.58 575.60,739.00 C577.30,736.42 578.99,733.06 580.80,732.90 C582.46,732.75 584.51,735.02 586.00,737.20 C588.33,740.61 589.61,747.05 591.20,752.90 C593.15,760.05 594.52,768.52 596.40,777.10 C598.54,786.87 600.97,798.47 603.40,808.40 C605.62,817.49 607.59,827.19 610.30,834.40 C612.36,839.87 613.97,844.53 617.20,848.30 C620.37,852.00 624.54,854.89 629.40,856.90 C635.15,859.27 641.12,859.61 650.00,860.40 C665.96,861.82 692.86,860.69 717.40,861.00 C746.93,861.37 782.47,862.07 815.00,862.60" stroke="#ffa500" stroke-dasharray="27.5 6.9 4.3 6.9" stroke-dashoffset="34"/>
<path d="M140.00,881.80 C163.13,882.50 187.94,882.94 209.40,883.90 C227.99,884.74 244.06,885.98 261.40,887.00 C278.76,888.02 302.22,888.88 313.50,890.00 C318.96,890.54 321.49,890.65 325.60,891.70 C330.13,892.85 334.70,894.70 339.50,896.90 C345.04,899.44 350.85,904.23 356.80,906.40 C362.44,908.46 368.51,909.24 374.20,909.90 C379.57,910.52 384.62,910.05 390.00,910.40 C395.64,910.77 401.58,910.97 407.30,912.10 C413.15,913.25 418.60,915.88 424.70,917.30 C431.28,918.83 438.41,919.80 445.50,920.80 C452.86,921.84 460.58,922.53 468.10,923.40 C475.61,924.27 483.25,925.12 490.60,926.00 C497.67,926.85 504.51,927.31 511.40,928.60 C518.37,929.90 525.39,931.29 532.20,933.80 C539.30,936.42 546.24,941.09 553.10,944.20 C559.53,947.12 565.78,950.66 572.10,952.00 C577.91,953.23 583.13,952.11 589.50,952.50 C597.31,952.97 607.33,953.90 615.50,954.90 C622.83,955.80 630.11,956.86 636.30,958.10 C641.37,959.12 645.29,960.07 650.00,961.50 C655.17,963.07 660.27,965.02 666.00,967.30 C672.81,970.01 680.81,973.39 688.10,976.90 C695.51,980.47 702.82,984.48 710.10,988.60 C717.49,992.78 725.38,998.46 732.10,1001.80 C737.38,1004.42 742.10,1006.64 746.80,1007.70 C750.85,1008.61 754.68,1009.08 758.50,1008.40 C762.49,1007.69 766.46,1006.00 770.20,1003.30 C774.85,999.94 779.51,993.93 783.40,988.60 C787.36,983.18 790.58,977.20 793.70,971.00 C796.97,964.50 799.59,956.63 802.50,950.40 C804.99,945.07 807.30,940.56 809.90,935.80 C812.47,931.09 815.30,926.60 818.00,922.00" stroke="#ffa500" stroke-dasharray="27.5 6.9 4.3 6.9" stroke-dashoffset="34"/>
<path d="M140.00,868.20 C157.33,867.47 176.42,866.80 192.00,866.00 C204.74,865.35 216.61,864.71 226.70,863.90 C234.52,863.27 240.91,862.89 247.50,861.80 C253.59,860.80 259.53,859.72 264.90,857.80 C269.91,856.01 274.74,853.95 278.80,850.90 C282.84,847.87 285.94,843.96 289.20,839.60 C292.94,834.59 296.06,827.80 299.60,822.20 C303.00,816.81 306.27,811.63 310.00,806.60 C313.76,801.53 317.90,796.35 322.10,791.90 C326.02,787.74 330.57,784.75 334.30,780.60 C338.11,776.36 341.23,771.32 344.70,766.70 C348.16,762.09 351.40,756.80 355.10,752.90 C358.38,749.45 361.31,746.34 365.50,744.20 C370.31,741.74 378.25,740.63 382.80,739.80 C385.70,739.27 387.26,739.66 390.00,739.00 C393.93,738.06 399.63,736.32 403.90,733.80 C408.33,731.18 412.03,727.08 416.00,723.40 C420.13,719.57 424.30,715.10 428.20,711.20 C431.80,707.60 434.84,703.13 438.60,700.80 C441.85,698.79 445.51,697.44 449.00,697.30 C452.45,697.16 456.03,698.52 459.40,699.90 C462.97,701.36 466.49,703.44 469.80,706.00 C473.46,708.83 476.80,712.72 480.20,716.40 C483.74,720.24 487.17,724.44 490.60,728.60 C494.10,732.84 497.38,737.73 501.00,741.60 C504.33,745.16 507.83,748.29 511.40,751.10 C514.77,753.75 518.00,755.89 521.80,758.10 C526.02,760.56 530.94,763.57 535.70,765.00 C540.22,766.35 545.50,766.45 549.60,766.70 C552.83,766.90 555.67,765.46 558.30,766.70 C561.58,768.24 564.41,773.09 566.90,777.10 C569.71,781.61 571.63,787.33 573.90,792.70 C576.27,798.32 578.57,804.01 580.80,810.10 C583.22,816.69 585.16,824.18 587.80,830.90 C590.38,837.47 592.73,845.16 596.40,850.00 C599.35,853.89 602.57,856.80 606.80,858.70 C611.61,860.86 618.20,860.84 624.20,861.30 C630.57,861.79 635.31,861.35 644.00,861.40 C660.73,861.49 691.19,861.58 717.40,861.80 C747.62,862.05 782.47,862.53 815.00,862.90" stroke="#00bfbf" stroke-dasharray="27.5 6.9 4.3 6.9" stroke-dashoffset="34"/>
<path d="M140.00,880.80 C157.33,881.23 173.42,881.63 192.00,882.10 C213.47,882.65 239.93,883.09 261.40,883.90 C280.01,884.61 297.90,885.53 313.50,886.50 C326.24,887.30 337.90,887.92 348.20,889.10 C356.53,890.06 363.95,890.96 370.70,892.60 C376.44,893.99 382.90,896.64 386.30,897.80 C387.96,898.37 388.45,898.39 390.00,899.10 C392.92,900.43 397.28,904.12 402.10,906.00 C408.32,908.43 417.13,910.19 424.70,911.20 C432.16,912.20 439.95,910.64 447.20,912.10 C454.42,913.55 460.96,917.52 468.10,919.90 C475.42,922.34 483.22,924.59 490.60,926.50 C497.64,928.33 504.31,929.72 511.40,931.20 C518.76,932.73 526.73,933.31 534.00,935.50 C541.19,937.66 548.15,940.74 554.80,944.20 C561.46,947.67 567.77,952.84 573.90,956.30 C579.28,959.34 583.76,962.48 589.50,964.10 C595.78,965.87 603.57,964.70 610.30,965.90 C616.86,967.07 623.00,968.82 629.40,971.10 C636.23,973.54 644.59,977.88 650.00,980.30 C653.52,981.87 655.21,982.38 658.70,984.20 C664.43,987.19 673.53,992.41 680.70,997.40 C688.21,1002.62 696.17,1009.47 702.70,1015.00 C708.17,1019.63 712.31,1024.45 717.40,1028.20 C722.14,1031.69 727.30,1035.50 732.10,1037.00 C736.07,1038.24 740.15,1039.09 743.80,1037.80 C748.08,1036.28 751.87,1031.42 755.60,1026.80 C760.32,1020.96 765.09,1013.10 768.80,1004.70 C773.14,994.88 775.47,981.81 779.00,971.00 C782.32,960.83 785.42,949.99 789.30,941.60 C792.44,934.81 795.99,928.68 799.60,924.00 C802.42,920.34 805.30,917.89 808.40,915.20 C811.44,912.56 814.80,910.40 818.00,908.00" stroke="#00bfbf" stroke-dasharray="27.5 6.9 4.3 6.9" stroke-dashoffset="34"/>
</g>
<rect x="140.7" y="610.5" width="674.3" height="529.7" fill="none" stroke="#111" stroke-width="1.6"/>
<line x1="140.7" y1="1140.20" x2="151.0" y2="1140.20" stroke="#000" stroke-width="3.4"/>
<line x1="140.7" y1="1051.92" x2="151.0" y2="1051.92" stroke="#000" stroke-width="3.4"/>
<line x1="140.7" y1="963.63" x2="151.0" y2="963.63" stroke="#000" stroke-width="3.4"/>
<line x1="140.7" y1="875.35" x2="151.0" y2="875.35" stroke="#000" stroke-width="3.4"/>
<line x1="140.7" y1="787.07" x2="151.0" y2="787.07" stroke="#000" stroke-width="3.4"/>
<line x1="140.7" y1="698.78" x2="151.0" y2="698.78" stroke="#000" stroke-width="3.4"/>
<line x1="140.7" y1="610.50" x2="151.0" y2="610.50" stroke="#000" stroke-width="3.4"/>
<line x1="140.66" y1="1140.2" x2="140.66" y2="1129.9" stroke="#000" stroke-width="3.4"/>
<line x1="309.24" y1="1140.2" x2="309.24" y2="1129.9" stroke="#000" stroke-width="3.4"/>
<line x1="477.82" y1="1140.2" x2="477.82" y2="1129.9" stroke="#000" stroke-width="3.4"/>
<line x1="646.40" y1="1140.2" x2="646.40" y2="1129.9" stroke="#000" stroke-width="3.4"/>
<line x1="814.98" y1="1140.2" x2="814.98" y2="1129.9" stroke="#000" stroke-width="3.4"/>
<clipPath id="clipBR"><rect x="815.0" y="610.5" width="673.0" height="529.7"/></clipPath>
<line x1="815.0" y1="875.45" x2="1488.0" y2="875.45" stroke="#000" stroke-width="5.2" stroke-dasharray="18.8 8.62"/>
<line x1="1317.60" y1="1140.2" x2="1317.60" y2="610.5" stroke="#000" stroke-width="5.2" stroke-dasharray="18.8 8.62"/>
<g clip-path="url(#clipBR)" fill="none" stroke-width="4.3" stroke-linejoin="round">
<path d="M815.00,864.70 C823.67,864.13 832.65,863.81 841.00,863.00 C848.81,862.24 857.27,861.34 863.60,860.10 C868.29,859.18 871.79,858.62 875.70,856.90 C879.91,855.05 883.80,852.08 887.90,849.10 C892.45,845.80 897.01,840.44 901.70,837.80 C905.70,835.55 909.66,834.64 913.90,833.50 C918.31,832.31 922.85,831.96 927.70,830.90 C933.18,829.71 939.95,828.68 945.10,826.60 C949.64,824.77 953.39,822.12 957.20,819.60 C960.87,817.17 963.85,813.96 967.60,811.80 C971.38,809.62 975.28,807.76 979.80,806.60 C984.97,805.28 991.70,805.99 997.10,804.90 C1002.04,803.90 1006.87,801.44 1011.00,800.60 C1014.20,799.95 1016.47,799.57 1019.70,799.70 C1023.80,799.87 1029.29,802.09 1033.60,802.30 C1037.30,802.48 1040.44,802.60 1044.00,801.40 C1048.45,799.90 1053.92,795.03 1057.80,792.70 C1060.57,791.04 1062.30,790.48 1065.00,788.60 C1069.03,785.80 1074.48,781.01 1079.10,776.80 C1083.92,772.40 1088.76,767.93 1093.30,762.70 C1098.23,757.02 1102.36,749.12 1107.40,743.80 C1111.86,739.10 1117.07,735.10 1121.60,732.00 C1125.27,729.49 1129.30,725.70 1132.20,726.10 C1134.60,726.44 1136.17,729.18 1138.10,732.00 C1141.33,736.71 1143.68,747.16 1147.50,753.30 C1150.89,758.76 1154.82,765.31 1159.30,767.40 C1162.89,769.07 1167.51,769.07 1171.10,767.40 C1175.58,765.31 1178.64,756.95 1182.90,753.30 C1186.59,750.14 1190.68,746.53 1194.70,746.20 C1198.56,745.89 1202.73,748.70 1206.50,750.90 C1210.60,753.29 1214.07,758.12 1218.20,760.30 C1221.94,762.28 1225.95,764.24 1230.00,763.90 C1234.59,763.51 1240.09,760.43 1244.20,756.80 C1248.96,752.60 1252.34,744.19 1256.00,739.10 C1258.91,735.06 1261.35,728.69 1264.20,728.50 C1266.86,728.32 1270.23,732.71 1272.50,736.70 C1276.10,743.00 1277.14,754.59 1279.60,765.00 C1282.60,777.71 1285.45,794.65 1289.00,807.50 C1292.03,818.45 1295.08,829.24 1299.00,837.50 C1302.05,843.91 1304.77,849.93 1309.20,853.60 C1313.22,856.93 1317.98,858.06 1323.80,859.40 C1331.75,861.23 1341.06,861.03 1353.00,861.60 C1371.86,862.50 1402.75,862.58 1426.10,863.10 C1447.59,863.58 1467.37,864.10 1488.00,864.60" stroke="#ff0000" stroke-dasharray="27.5 6.9 4.3 6.9" stroke-dashoffset="34"/>
<path d="M815.00,883.50 C832.33,884.20 850.46,884.68 867.00,885.60 C882.13,886.45 897.80,887.31 910.40,888.70 C920.19,889.78 928.68,890.71 936.40,892.60 C942.86,894.18 948.23,895.64 953.80,898.60 C959.84,901.81 965.19,907.77 971.10,911.60 C976.77,915.27 982.55,918.87 988.50,921.20 C994.13,923.41 1000.01,924.20 1005.80,925.50 C1011.58,926.80 1017.79,927.45 1023.20,929.00 C1028.13,930.41 1032.68,931.90 1037.00,934.20 C1041.35,936.52 1045.27,939.58 1049.20,942.90 C1053.39,946.45 1056.38,951.40 1061.30,955.00 C1067.08,959.23 1075.50,963.15 1082.30,965.90 C1088.26,968.31 1093.85,969.95 1099.70,971.10 C1105.42,972.23 1111.26,971.81 1117.00,972.80 C1122.83,973.80 1128.72,975.00 1134.40,977.10 C1140.30,979.28 1145.92,982.90 1151.70,985.80 C1157.49,988.70 1163.23,992.01 1169.10,994.50 C1174.80,996.92 1180.58,998.86 1186.40,1000.60 C1192.15,1002.32 1197.99,1003.60 1203.80,1004.90 C1209.56,1006.19 1215.63,1008.21 1221.10,1008.40 C1225.97,1008.57 1230.96,1008.23 1235.00,1006.60 C1238.75,1005.09 1241.52,1001.57 1244.70,999.40 C1247.61,997.41 1250.81,996.08 1253.30,994.00 C1255.63,992.05 1257.07,989.82 1259.30,987.40 C1262.07,984.40 1265.35,980.51 1268.70,977.40 C1272.05,974.28 1276.14,971.20 1279.40,968.70 C1282.04,966.67 1284.13,965.13 1286.70,963.40 C1289.44,961.56 1292.52,959.61 1295.40,958.00 C1298.09,956.50 1300.85,955.22 1303.40,954.00 C1305.70,952.91 1307.64,952.02 1310.00,951.00 C1312.69,949.83 1315.73,948.55 1318.70,947.40 C1321.76,946.21 1324.90,945.29 1328.10,944.00 C1331.55,942.61 1334.52,940.91 1338.70,939.30 C1344.47,937.08 1352.83,934.91 1359.70,932.40 C1366.46,929.93 1372.61,926.87 1379.60,924.40 C1387.15,921.74 1395.62,919.33 1403.50,917.10 C1411.12,914.94 1418.82,913.25 1426.10,911.20 C1432.96,909.27 1439.38,907.31 1446.00,905.20 C1452.65,903.08 1459.07,900.67 1465.90,898.50 C1473.05,896.23 1480.63,894.10 1488.00,891.90" stroke="#ff0000" stroke-dasharray="27.5 6.9 4.3 6.9" stroke-dashoffset="34"/>
<path d="M815.00,866.50 C832.33,865.73 852.63,865.18 867.00,864.20 C877.19,863.51 885.33,863.05 893.10,861.80 C899.50,860.77 905.28,859.80 910.40,857.80 C914.94,856.03 918.75,853.63 922.50,850.90 C926.29,848.14 929.05,844.01 933.00,841.30 C937.11,838.47 941.95,836.13 946.80,834.40 C951.74,832.64 957.25,832.47 962.40,830.90 C967.69,829.29 973.11,827.16 978.10,824.80 C982.96,822.51 987.76,819.60 992.00,817.00 C995.74,814.70 998.58,811.83 1002.30,810.10 C1006.07,808.35 1010.04,807.57 1014.50,806.60 C1019.73,805.46 1026.02,804.87 1031.80,804.00 C1037.59,803.13 1043.73,802.15 1049.20,801.40 C1054.06,800.74 1058.57,801.84 1063.00,799.70 C1068.64,796.98 1073.79,789.51 1079.10,783.90 C1084.70,777.98 1090.35,771.80 1095.70,765.00 C1101.41,757.74 1106.86,748.87 1112.20,741.50 C1117.04,734.82 1121.14,727.49 1126.30,722.60 C1130.67,718.45 1136.39,712.58 1140.40,713.20 C1144.19,713.78 1146.91,720.60 1149.90,725.00 C1153.25,729.92 1155.62,737.66 1159.30,741.50 C1162.11,744.44 1165.42,747.49 1168.70,747.40 C1172.44,747.30 1176.70,742.30 1180.50,739.10 C1184.59,735.66 1187.82,730.06 1192.30,727.30 C1196.54,724.68 1201.81,722.42 1206.50,722.60 C1211.24,722.78 1216.14,728.65 1220.60,728.50 C1224.74,728.36 1229.14,726.01 1232.40,722.60 C1236.72,718.08 1238.72,708.68 1241.80,701.40 C1245.03,693.77 1247.79,678.50 1251.30,677.80 C1253.50,677.36 1256.36,681.05 1258.30,684.90 C1262.44,693.10 1263.13,714.04 1265.40,729.70 C1267.89,746.89 1269.21,766.55 1272.50,783.90 C1275.61,800.27 1280.39,819.17 1284.30,831.10 C1286.78,838.66 1287.71,845.06 1291.70,849.20 C1295.32,852.95 1301.10,854.29 1306.30,855.80 C1311.76,857.39 1315.94,857.56 1323.80,858.30 C1339.79,859.80 1371.19,860.81 1396.90,861.60 C1425.59,862.48 1457.63,862.60 1488.00,863.10" stroke="#ffa500" stroke-dasharray="27.5 6.9 4.3 6.9" stroke-dashoffset="34"/>
<path d="M815.00,882.50 C843.90,883.67 876.47,884.74 901.70,886.00 C921.27,886.98 939.44,887.71 953.80,889.10 C963.98,890.09 972.12,890.59 979.80,892.60 C986.27,894.30 991.79,896.67 997.10,899.50 C1002.15,902.19 1006.64,905.52 1011.00,909.00 C1015.33,912.46 1018.74,917.37 1023.20,920.30 C1027.45,923.09 1031.85,924.63 1037.00,926.40 C1043.14,928.51 1052.65,930.49 1057.80,931.60 C1060.81,932.25 1062.30,931.93 1065.00,932.90 C1068.98,934.33 1074.74,937.12 1078.90,940.70 C1083.53,944.69 1086.73,951.17 1091.00,956.30 C1095.39,961.58 1099.64,967.54 1104.90,971.90 C1110.07,976.18 1115.97,979.57 1122.20,982.30 C1128.67,985.13 1136.24,985.83 1143.10,988.40 C1150.14,991.04 1157.29,994.14 1163.90,998.00 C1170.60,1001.92 1176.33,1007.76 1183.00,1011.80 C1189.63,1015.82 1196.31,1019.49 1203.80,1022.20 C1211.83,1025.10 1221.99,1027.98 1229.80,1028.30 C1236.12,1028.56 1242.01,1028.27 1247.10,1025.70 C1252.49,1022.98 1257.14,1015.98 1261.00,1011.80 C1263.96,1008.60 1266.03,1005.81 1268.50,1003.00 C1270.83,1000.35 1273.24,998.02 1275.40,995.40 C1277.53,992.82 1279.19,990.24 1281.40,987.40 C1283.98,984.07 1286.88,979.77 1290.00,976.70 C1292.91,973.84 1296.28,971.58 1299.40,969.40 C1302.28,967.39 1305.15,965.88 1308.00,964.00 C1310.91,962.08 1313.64,959.86 1316.70,958.00 C1319.86,956.08 1323.23,954.59 1326.70,952.70 C1330.53,950.62 1334.22,948.26 1338.70,946.00 C1344.13,943.27 1350.64,940.49 1357.10,937.70 C1364.20,934.63 1371.99,931.55 1379.60,928.40 C1387.45,925.15 1395.63,921.65 1403.50,918.50 C1411.12,915.46 1418.81,912.65 1426.10,909.80 C1432.95,907.12 1439.35,904.44 1446.00,901.90 C1452.62,899.37 1459.02,896.58 1465.90,894.60 C1473.00,892.55 1480.63,891.47 1488.00,889.90" stroke="#ffa500" stroke-dasharray="27.5 6.9 4.3 6.9" stroke-dashoffset="34"/>
<path d="M815.00,868.20 C835.23,867.63 859.70,867.43 875.70,866.50 C886.19,865.89 893.04,865.07 901.70,864.20 C910.37,863.33 919.39,862.87 927.70,861.30 C935.56,859.81 943.85,858.01 950.30,855.20 C955.70,852.85 959.70,849.19 964.20,846.50 C968.35,844.02 971.71,841.73 976.30,839.60 C981.85,837.02 989.08,835.18 995.40,832.60 C1001.81,829.98 1008.29,826.80 1014.50,824.00 C1020.41,821.34 1025.95,818.38 1031.80,816.20 C1037.52,814.07 1043.72,812.51 1049.20,811.00 C1054.05,809.66 1058.26,808.96 1063.00,807.50 C1068.20,805.89 1073.91,804.49 1079.10,801.60 C1084.85,798.40 1090.40,793.61 1095.70,788.60 C1101.47,783.14 1107.12,776.44 1112.20,769.80 C1117.33,763.09 1122.01,755.91 1126.30,748.50 C1130.65,740.98 1133.88,732.00 1138.10,725.00 C1141.81,718.85 1145.13,712.04 1149.90,708.50 C1153.99,705.46 1159.23,704.49 1164.00,703.70 C1168.66,702.93 1173.82,705.52 1178.20,703.70 C1183.39,701.55 1187.34,694.86 1192.30,689.60 C1198.22,683.33 1205.47,676.29 1211.20,668.40 C1217.36,659.92 1222.60,648.55 1227.70,640.10 C1231.91,633.13 1235.98,621.34 1239.50,621.20 C1242.05,621.10 1244.53,626.11 1246.50,630.60 C1250.07,638.74 1251.70,654.91 1253.60,668.40 C1255.76,683.74 1256.71,701.61 1258.30,717.90 C1259.85,733.80 1261.04,749.32 1263.00,765.00 C1264.97,780.75 1266.73,798.60 1270.10,812.20 C1272.77,822.98 1274.90,834.25 1280.00,840.50 C1283.84,845.21 1289.60,846.94 1294.60,849.20 C1299.35,851.35 1303.42,852.73 1309.20,853.90 C1317.19,855.52 1326.99,855.63 1338.40,856.50 C1354.54,857.73 1375.24,859.25 1396.90,860.20 C1423.91,861.38 1457.63,861.67 1488.00,862.40" stroke="#00bfbf" stroke-dasharray="27.5 6.9 4.3 6.9" stroke-dashoffset="34"/>
<path d="M815.00,881.30 C843.90,882.17 874.41,882.82 901.70,883.90 C926.12,884.86 951.95,885.87 971.10,887.30 C984.67,888.32 995.10,889.19 1005.80,890.80 C1015.13,892.20 1024.12,893.55 1031.80,896.00 C1038.31,898.08 1043.90,900.67 1049.20,903.80 C1054.25,906.78 1058.26,910.54 1063.00,914.20 C1068.14,918.17 1072.98,923.31 1078.90,926.80 C1085.14,930.48 1093.14,932.48 1099.70,935.50 C1105.78,938.30 1111.87,940.27 1117.00,944.20 C1122.32,948.29 1126.80,953.59 1130.90,959.80 C1135.70,967.08 1138.60,978.44 1143.10,985.80 C1146.83,991.90 1150.48,996.60 1155.20,1001.40 C1160.20,1006.49 1166.65,1010.92 1172.50,1015.30 C1178.22,1019.58 1184.37,1022.54 1189.90,1027.40 C1196.00,1032.76 1201.11,1041.12 1207.20,1046.50 C1212.73,1051.38 1218.56,1055.77 1224.60,1058.70 C1230.17,1061.40 1236.39,1063.09 1241.90,1063.90 C1246.73,1064.61 1251.63,1065.63 1255.80,1063.90 C1260.44,1061.98 1264.17,1056.88 1268.00,1051.70 C1273.00,1044.93 1277.34,1034.43 1281.80,1025.70 C1286.24,1016.99 1290.31,1006.02 1294.70,999.40 C1297.76,994.79 1301.17,992.02 1304.00,988.70 C1306.43,985.85 1308.39,983.34 1310.70,980.70 C1313.05,978.01 1315.37,975.22 1318.00,972.70 C1320.69,970.12 1323.64,967.93 1326.70,965.40 C1330.07,962.61 1333.41,959.63 1337.40,956.70 C1342.06,953.28 1347.54,949.90 1353.10,946.30 C1359.32,942.27 1366.25,937.40 1373.00,933.70 C1379.52,930.13 1385.98,927.74 1392.90,924.40 C1400.52,920.72 1409.73,916.47 1416.80,912.50 C1422.73,909.17 1426.99,905.61 1432.70,902.50 C1438.89,899.13 1445.91,895.43 1452.70,893.20 C1459.22,891.06 1466.36,889.94 1472.60,889.20 C1478.03,888.55 1482.87,888.80 1488.00,888.60" stroke="#00bfbf" stroke-dasharray="27.5 6.9 4.3 6.9" stroke-dashoffset="34"/>
</g>
<rect x="815.0" y="610.5" width="673.0" height="529.7" fill="none" stroke="#111" stroke-width="1.6"/>
<line x1="815.0" y1="1140.20" x2="825.3" y2="1140.20" stroke="#000" stroke-width="3.4"/>
<line x1="815.0" y1="1051.92" x2="825.3" y2="1051.92" stroke="#000" stroke-width="3.4"/>
<line x1="815.0" y1="963.63" x2="825.3" y2="963.63" stroke="#000" stroke-width="3.4"/>
<line x1="815.0" y1="875.35" x2="825.3" y2="875.35" stroke="#000" stroke-width="3.4"/>
<line x1="815.0" y1="787.07" x2="825.3" y2="787.07" stroke="#000" stroke-width="3.4"/>
<line x1="815.0" y1="698.78" x2="825.3" y2="698.78" stroke="#000" stroke-width="3.4"/>
<line x1="815.0" y1="610.50" x2="825.3" y2="610.50" stroke="#000" stroke-width="3.4"/>
<line x1="976.60" y1="1140.2" x2="976.60" y2="1129.9" stroke="#000" stroke-width="3.4"/>
<line x1="1147.10" y1="1140.2" x2="1147.10" y2="1129.9" stroke="#000" stroke-width="3.4"/>
<line x1="1317.60" y1="1140.2" x2="1317.60" y2="1129.9" stroke="#000" stroke-width="3.4"/>
<line x1="1488.10" y1="1140.2" x2="1488.10" y2="1129.9" stroke="#000" stroke-width="3.4"/>
<text x="80.31" y="29.30" font-size="37.21" textLength="52.79" lengthAdjust="spacingAndGlyphs" style="" >1.5</text>
<text x="80.31" y="117.43" font-size="37.21" textLength="52.67" lengthAdjust="spacingAndGlyphs" style="" >1.0</text>
<text x="79.18" y="205.57" font-size="37.21" textLength="53.95" lengthAdjust="spacingAndGlyphs" style="" >0.5</text>
<text x="79.19" y="293.70" font-size="37.21" textLength="53.82" lengthAdjust="spacingAndGlyphs" style="" >0.0</text>
<text x="52.48" y="381.83" font-size="37.21" textLength="80.73" lengthAdjust="spacingAndGlyphs" style="" >−0.5</text>
<text x="52.49" y="469.97" font-size="37.21" textLength="80.61" lengthAdjust="spacingAndGlyphs" style="" >−1.0</text>
<text x="52.48" y="558.10" font-size="37.21" textLength="80.73" lengthAdjust="spacingAndGlyphs" style="" >−1.5</text>
<text x="80.31" y="624.50" font-size="37.21" textLength="52.79" lengthAdjust="spacingAndGlyphs" style="" >1.5</text>
<text x="80.31" y="712.78" font-size="37.21" textLength="52.67" lengthAdjust="spacingAndGlyphs" style="" >1.0</text>
<text x="79.18" y="801.07" font-size="37.21" textLength="53.95" lengthAdjust="spacingAndGlyphs" style="" >0.5</text>
<text x="79.19" y="889.35" font-size="37.21" textLength="53.82" lengthAdjust="spacingAndGlyphs" style="" >0.0</text>
<text x="52.48" y="977.63" font-size="37.21" textLength="80.73" lengthAdjust="spacingAndGlyphs" style="" >−0.5</text>
<text x="52.49" y="1065.92" font-size="37.21" textLength="80.61" lengthAdjust="spacingAndGlyphs" style="" >−1.0</text>
<text x="52.48" y="1154.20" font-size="37.21" textLength="80.73" lengthAdjust="spacingAndGlyphs" style="" >−1.5</text>
<text x="115.77" y="576.70" font-size="37.21" textLength="49.55" lengthAdjust="spacingAndGlyphs" style="" >−6</text>
<text x="284.38" y="576.70" font-size="37.21" textLength="48.87" lengthAdjust="spacingAndGlyphs" style="" >−4</text>
<text x="452.91" y="576.70" font-size="37.21" textLength="49.86" lengthAdjust="spacingAndGlyphs" style="" >−2</text>
<text x="636.51" y="576.70" font-size="37.21" textLength="19.78" lengthAdjust="spacingAndGlyphs" style="" >0</text>
<text x="803.90" y="576.70" font-size="37.21" textLength="20.75" lengthAdjust="spacingAndGlyphs" style="" >2</text>
<text x="951.74" y="576.70" font-size="37.21" textLength="48.87" lengthAdjust="spacingAndGlyphs" style="" >−4</text>
<text x="1122.19" y="576.70" font-size="37.21" textLength="49.86" lengthAdjust="spacingAndGlyphs" style="" >−2</text>
<text x="1307.71" y="576.70" font-size="37.21" textLength="19.78" lengthAdjust="spacingAndGlyphs" style="" >0</text>
<text x="1477.02" y="576.70" font-size="37.21" textLength="20.75" lengthAdjust="spacingAndGlyphs" style="" >2</text>
<text x="115.77" y="1172.80" font-size="37.21" textLength="49.55" lengthAdjust="spacingAndGlyphs" style="" >−6</text>
<text x="284.38" y="1172.80" font-size="37.21" textLength="48.87" lengthAdjust="spacingAndGlyphs" style="" >−4</text>
<text x="452.91" y="1172.80" font-size="37.21" textLength="49.86" lengthAdjust="spacingAndGlyphs" style="" >−2</text>
<text x="636.51" y="1172.80" font-size="37.21" textLength="19.78" lengthAdjust="spacingAndGlyphs" style="" >0</text>
<text x="803.90" y="1172.80" font-size="37.21" textLength="20.75" lengthAdjust="spacingAndGlyphs" style="" >2</text>
<text x="951.74" y="1172.80" font-size="37.21" textLength="48.87" lengthAdjust="spacingAndGlyphs" style="" >−4</text>
<text x="1122.19" y="1172.80" font-size="37.21" textLength="49.86" lengthAdjust="spacingAndGlyphs" style="" >−2</text>
<text x="1307.71" y="1172.80" font-size="37.21" textLength="19.78" lengthAdjust="spacingAndGlyphs" style="" >0</text>
<text x="1477.02" y="1172.80" font-size="37.21" textLength="20.75" lengthAdjust="spacingAndGlyphs" style="" >2</text>
<text x="294.56" y="1217.50" font-size="43.02" textLength="144.43" lengthAdjust="spacingAndGlyphs" style="" >Energy</text>
<text x="453.48" y="1217.50" font-size="43.02" textLength="206.74" lengthAdjust="spacingAndGlyphs" style="" >(eV/atom)</text>
<text x="967.86" y="1217.50" font-size="43.02" textLength="144.43" lengthAdjust="spacingAndGlyphs" style="" >Energy</text>
<text x="1126.78" y="1217.50" font-size="43.02" textLength="206.74" lengthAdjust="spacingAndGlyphs" style="" >(eV/atom)</text>
<g transform="translate(34.5,0) rotate(-90)"><text x="-974.80" y="0.00" font-size="43.02" textLength="131.30" lengthAdjust="spacingAndGlyphs" style="" >Partial</text><text x="-829.49" y="0.00" font-size="43.02" textLength="150.08" lengthAdjust="spacingAndGlyphs" style="" >density</text><text x="-665.88" y="0.00" font-size="43.02" textLength="41.31" lengthAdjust="spacingAndGlyphs" style="" >of</text><text x="-611.81" y="0.00" font-size="43.02" textLength="125.51" lengthAdjust="spacingAndGlyphs" style="" >states</text><text x="-471.87" y="0.00" font-size="43.02" textLength="224.05" lengthAdjust="spacingAndGlyphs" style="" >(states/eV)</text></g>
<text x="184.30" y="59.70" font-size="39.24" textLength="23.37" lengthAdjust="spacingAndGlyphs" style="font-style:italic;" >η</text>
<text x="220.54" y="59.70" font-size="39.24" textLength="29.45" lengthAdjust="spacingAndGlyphs" style="" >=</text>
<text x="263.47" y="59.70" font-size="39.24" textLength="58.99" lengthAdjust="spacingAndGlyphs" style="" >1.0</text>
<text x="335.82" y="59.70" font-size="39.24" textLength="73.36" lengthAdjust="spacingAndGlyphs" style="" >(Fe)</text>
<text x="850.14" y="59.70" font-size="39.24" textLength="22.02" lengthAdjust="spacingAndGlyphs" style="font-style:italic;" >η</text>
<text x="885.73" y="59.70" font-size="39.24" textLength="29.57" lengthAdjust="spacingAndGlyphs" style="" >=</text>
<text x="929.82" y="59.70" font-size="39.24" textLength="58.01" lengthAdjust="spacingAndGlyphs" style="" >1.0</text>
<text x="1003.27" y="59.70" font-size="39.24" textLength="65.76" lengthAdjust="spacingAndGlyphs" style="" >(Ni)</text>
<text x="184.30" y="654.70" font-size="39.24" textLength="23.37" lengthAdjust="spacingAndGlyphs" style="font-style:italic;" >η</text>
<text x="220.54" y="654.70" font-size="39.24" textLength="29.45" lengthAdjust="spacingAndGlyphs" style="" >=</text>
<text x="263.34" y="654.70" font-size="39.24" textLength="59.23" lengthAdjust="spacingAndGlyphs" style="" >0.0</text>
<text x="335.82" y="654.70" font-size="39.24" textLength="73.36" lengthAdjust="spacingAndGlyphs" style="" >(Fe)</text>
<text x="850.14" y="654.70" font-size="39.24" textLength="22.02" lengthAdjust="spacingAndGlyphs" style="font-style:italic;" >η</text>
<text x="885.73" y="654.70" font-size="39.24" textLength="29.57" lengthAdjust="spacingAndGlyphs" style="" >=</text>
<text x="929.46" y="654.70" font-size="39.24" textLength="58.38" lengthAdjust="spacingAndGlyphs" style="" >0.0</text>
<text x="1002.33" y="654.70" font-size="39.24" textLength="66.74" lengthAdjust="spacingAndGlyphs" style="" >(Ni)</text>
<rect x="153.4" y="409.7" width="249" height="121" rx="4.8" ry="4.8" fill="#fff" fill-opacity="0.8" stroke="#d6d6d6" stroke-width="1.8"/><line x1="163.5" y1="430.50" x2="215.60000000000002" y2="430.50" stroke="#ff0000" stroke-width="4.3" stroke-linecap="square"/><text x="236.34" y="439.70" font-size="27.04" textLength="15.92" lengthAdjust="spacingAndGlyphs" style="" >P</text><text x="260.51" y="439.70" font-size="27.04" textLength="20.19" lengthAdjust="spacingAndGlyphs" style="" >=</text><text x="290.06" y="439.70" font-size="27.04" textLength="16.29" lengthAdjust="spacingAndGlyphs" style="" >0</text><text x="314.66" y="439.70" font-size="27.04" textLength="49.34" lengthAdjust="spacingAndGlyphs" style="" >GPa</text><line x1="163.5" y1="468.40" x2="215.60000000000002" y2="468.40" stroke="#ffa500" stroke-width="4.3" stroke-linecap="square"/><text x="236.34" y="477.60" font-size="27.04" textLength="15.92" lengthAdjust="spacingAndGlyphs" style="" >P</text><text x="260.51" y="477.60" font-size="27.04" textLength="20.19" lengthAdjust="spacingAndGlyphs" style="" >=</text><text x="289.01" y="477.60" font-size="27.04" textLength="42.12" lengthAdjust="spacingAndGlyphs" style="" >-15</text><text x="339.85" y="477.60" font-size="27.04" textLength="49.85" lengthAdjust="spacingAndGlyphs" style="" >GPa</text><line x1="163.5" y1="506.30" x2="215.60000000000002" y2="506.30" stroke="#00bfbf" stroke-width="4.3" stroke-linecap="square"/><text x="236.34" y="515.50" font-size="27.04" textLength="15.92" lengthAdjust="spacingAndGlyphs" style="" >P</text><text x="260.51" y="515.50" font-size="27.04" textLength="20.19" lengthAdjust="spacingAndGlyphs" style="" >=</text><text x="289.01" y="515.50" font-size="27.04" textLength="42.12" lengthAdjust="spacingAndGlyphs" style="" >-25</text><text x="339.85" y="515.50" font-size="27.04" textLength="49.85" lengthAdjust="spacingAndGlyphs" style="" >GPa</text>
<rect x="827.7" y="409.7" width="249" height="121" rx="4.8" ry="4.8" fill="#fff" fill-opacity="0.8" stroke="#d6d6d6" stroke-width="1.8"/><line x1="837.8000000000001" y1="430.50" x2="889.9000000000001" y2="430.50" stroke="#ff0000" stroke-width="4.3" stroke-linecap="square"/><text x="910.64" y="439.70" font-size="27.04" textLength="15.92" lengthAdjust="spacingAndGlyphs" style="" >P</text><text x="934.81" y="439.70" font-size="27.04" textLength="20.19" lengthAdjust="spacingAndGlyphs" style="" >=</text><text x="964.36" y="439.70" font-size="27.04" textLength="16.29" lengthAdjust="spacingAndGlyphs" style="" >0</text><text x="988.96" y="439.70" font-size="27.04" textLength="49.34" lengthAdjust="spacingAndGlyphs" style="" >GPa</text><line x1="837.8000000000001" y1="468.40" x2="889.9000000000001" y2="468.40" stroke="#ffa500" stroke-width="4.3" stroke-linecap="square"/><text x="910.64" y="477.60" font-size="27.04" textLength="15.92" lengthAdjust="spacingAndGlyphs" style="" >P</text><text x="934.81" y="477.60" font-size="27.04" textLength="20.19" lengthAdjust="spacingAndGlyphs" style="" >=</text><text x="963.31" y="477.60" font-size="27.04" textLength="42.12" lengthAdjust="spacingAndGlyphs" style="" >-15</text><text x="1014.15" y="477.60" font-size="27.04" textLength="49.85" lengthAdjust="spacingAndGlyphs" style="" >GPa</text><line x1="837.8000000000001" y1="506.30" x2="889.9000000000001" y2="506.30" stroke="#00bfbf" stroke-width="4.3" stroke-linecap="square"/><text x="910.64" y="515.50" font-size="27.04" textLength="15.92" lengthAdjust="spacingAndGlyphs" style="" >P</text><text x="934.81" y="515.50" font-size="27.04" textLength="20.19" lengthAdjust="spacingAndGlyphs" style="" >=</text><text x="963.31" y="515.50" font-size="27.04" textLength="42.12" lengthAdjust="spacingAndGlyphs" style="" >-25</text><text x="1014.15" y="515.50" font-size="27.04" textLength="49.85" lengthAdjust="spacingAndGlyphs" style="" >GPa</text>
<rect x="153.4" y="1006.5" width="249" height="121" rx="4.8" ry="4.8" fill="#fff" fill-opacity="0.8" stroke="#d6d6d6" stroke-width="1.8"/><line x1="163.5" y1="1027.30" x2="215.60000000000002" y2="1027.30" stroke="#ff0000" stroke-width="4.3" stroke-dasharray="27.5 6.9 4.3 6.9"/><text x="236.34" y="1036.50" font-size="27.04" textLength="15.92" lengthAdjust="spacingAndGlyphs" style="" >P</text><text x="260.51" y="1036.50" font-size="27.04" textLength="20.19" lengthAdjust="spacingAndGlyphs" style="" >=</text><text x="290.06" y="1036.50" font-size="27.04" textLength="16.29" lengthAdjust="spacingAndGlyphs" style="" >0</text><text x="314.66" y="1036.50" font-size="27.04" textLength="49.34" lengthAdjust="spacingAndGlyphs" style="" >GPa</text><line x1="163.5" y1="1065.20" x2="215.60000000000002" y2="1065.20" stroke="#ffa500" stroke-width="4.3" stroke-dasharray="27.5 6.9 4.3 6.9"/><text x="236.34" y="1074.40" font-size="27.04" textLength="15.92" lengthAdjust="spacingAndGlyphs" style="" >P</text><text x="260.51" y="1074.40" font-size="27.04" textLength="20.19" lengthAdjust="spacingAndGlyphs" style="" >=</text><text x="289.01" y="1074.40" font-size="27.04" textLength="42.12" lengthAdjust="spacingAndGlyphs" style="" >-15</text><text x="339.85" y="1074.40" font-size="27.04" textLength="49.85" lengthAdjust="spacingAndGlyphs" style="" >GPa</text><line x1="163.5" y1="1103.10" x2="215.60000000000002" y2="1103.10" stroke="#00bfbf" stroke-width="4.3" stroke-dasharray="27.5 6.9 4.3 6.9"/><text x="236.34" y="1112.30" font-size="27.04" textLength="15.92" lengthAdjust="spacingAndGlyphs" style="" >P</text><text x="260.51" y="1112.30" font-size="27.04" textLength="20.19" lengthAdjust="spacingAndGlyphs" style="" >=</text><text x="289.01" y="1112.30" font-size="27.04" textLength="42.12" lengthAdjust="spacingAndGlyphs" style="" >-25</text><text x="339.85" y="1112.30" font-size="27.04" textLength="49.85" lengthAdjust="spacingAndGlyphs" style="" >GPa</text>
<rect x="827.7" y="1006.5" width="249" height="121" rx="4.8" ry="4.8" fill="#fff" fill-opacity="0.8" stroke="#d6d6d6" stroke-width="1.8"/><line x1="837.8000000000001" y1="1027.30" x2="889.9000000000001" y2="1027.30" stroke="#ff0000" stroke-width="4.3" stroke-dasharray="27.5 6.9 4.3 6.9"/><text x="910.64" y="1036.50" font-size="27.04" textLength="15.92" lengthAdjust="spacingAndGlyphs" style="" >P</text><text x="934.81" y="1036.50" font-size="27.04" textLength="20.19" lengthAdjust="spacingAndGlyphs" style="" >=</text><text x="964.36" y="1036.50" font-size="27.04" textLength="16.29" lengthAdjust="spacingAndGlyphs" style="" >0</text><text x="988.96" y="1036.50" font-size="27.04" textLength="49.34" lengthAdjust="spacingAndGlyphs" style="" >GPa</text><line x1="837.8000000000001" y1="1065.20" x2="889.9000000000001" y2="1065.20" stroke="#ffa500" stroke-width="4.3" stroke-dasharray="27.5 6.9 4.3 6.9"/><text x="910.64" y="1074.40" font-size="27.04" textLength="15.92" lengthAdjust="spacingAndGlyphs" style="" >P</text><text x="934.81" y="1074.40" font-size="27.04" textLength="20.19" lengthAdjust="spacingAndGlyphs" style="" >=</text><text x="963.31" y="1074.40" font-size="27.04" textLength="42.12" lengthAdjust="spacingAndGlyphs" style="" >-15</text><text x="1014.15" y="1074.40" font-size="27.04" textLength="49.85" lengthAdjust="spacingAndGlyphs" style="" >GPa</text><line x1="837.8000000000001" y1="1103.10" x2="889.9000000000001" y2="1103.10" stroke="#00bfbf" stroke-width="4.3" stroke-dasharray="27.5 6.9 4.3 6.9"/><text x="910.64" y="1112.30" font-size="27.04" textLength="15.92" lengthAdjust="spacingAndGlyphs" style="" >P</text><text x="934.81" y="1112.30" font-size="27.04" textLength="20.19" lengthAdjust="spacingAndGlyphs" style="" >=</text><text x="963.31" y="1112.30" font-size="27.04" textLength="42.12" lengthAdjust="spacingAndGlyphs" style="" >-25</text><text x="1014.15" y="1112.30" font-size="27.04" textLength="49.85" lengthAdjust="spacingAndGlyphs" style="" >GPa</text>
</svg></body></html>
